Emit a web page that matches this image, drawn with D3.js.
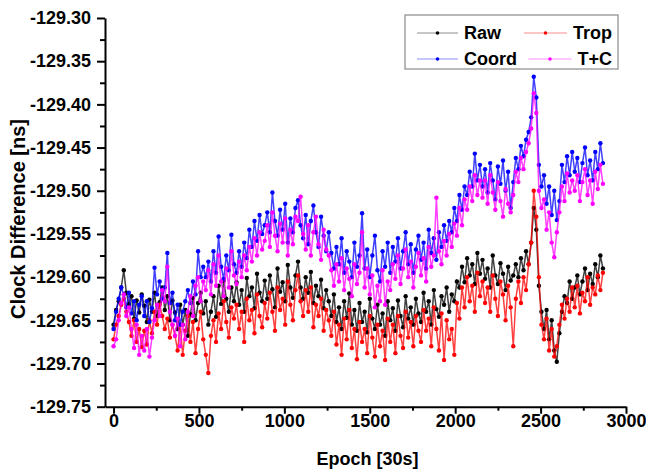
<!DOCTYPE html>
<meta charset="utf-8">
<style>
body { margin: 0; background: #fff; }
svg { font-family: "Liberation Sans", Arial, sans-serif; }
.axis path, .axis line { stroke: #000; stroke-width: 2; }
.axis text { font-size: 18px; font-weight: bold; fill: #000; font-family: "Liberation Sans", Arial, sans-serif; }
.titulo { font-size: 18px; font-weight: bold; fill: #000; }
.legenda text { font-size: 18px; font-weight: bold; fill: #000; }
</style>
<svg width="646" height="475"></svg>
<script src="https://cdn.jsdelivr.net/npm/d3@7"></script>
<script>

// epocas amostradas (a cada 15 epocas de 30s)
var epochs = d3.range(0, 2866, 15);

var raw = [
  -129.655, -129.638, -129.628, -129.612, -129.592, -129.618, -129.631, -129.622, -129.648, -129.627, -129.641, -129.620,
  -129.633, -129.652, -129.626, -129.640, -129.618, -129.645, -129.629, -129.612, -129.638, -129.622, -129.650, -129.627,
  -129.641, -129.660, -129.632, -129.655, -129.638, -129.668, -129.643, -129.624, -129.650, -129.630, -129.618, -129.642,
  -129.628, -129.655, -129.640, -129.622, -129.646, -129.610, -129.631, -129.604, -129.625, -129.640, -129.612, -129.628,
  -129.606, -129.632, -129.615, -129.640, -129.601, -129.622, -129.612, -129.636, -129.596, -129.618, -129.628, -129.604,
  -129.625, -129.598, -129.614, -129.635, -129.590, -129.617, -129.606, -129.628, -129.586, -129.612, -129.624, -129.598,
  -129.582, -129.612, -129.625, -129.600, -129.618, -129.594, -129.630, -129.610, -129.622, -129.603, -129.636, -129.615,
  -129.628, -129.645, -129.620, -129.652, -129.635, -129.660, -129.628, -129.647, -129.619, -129.655, -129.638, -129.662,
  -129.630, -129.652, -129.640, -129.664, -129.625, -129.648, -129.660, -129.632, -129.655, -129.642, -129.668, -129.628,
  -129.650, -129.636, -129.662, -129.627, -129.645, -129.658, -129.622, -129.648, -129.635, -129.655, -129.625, -129.642,
  -129.652, -129.618, -129.640, -129.628, -129.655, -129.615, -129.637, -129.646, -129.622, -129.632, -129.612, -129.640,
  -129.620, -129.628, -129.605, -129.612, -129.588, -129.606, -129.578, -129.598, -129.585, -129.608, -129.572, -129.596,
  -129.580, -129.602, -129.590, -129.612, -129.575, -129.598, -129.608, -129.584, -129.596, -129.615, -129.588, -129.604,
  -129.598, -129.585, -129.600, -129.578, -129.592, -129.570, -129.585, -129.560, -129.520, -129.545, -129.610, -129.640,
  -129.660, -129.638, -129.672, -129.650, -129.685, -129.698, -129.665, -129.640, -129.622, -129.630, -129.605, -129.625,
  -129.612, -129.598, -129.620, -129.605, -129.590, -129.615, -129.596, -129.608, -129.585, -129.600, -129.575, -129.590
];

var trop = [
  -129.672, -129.655, -129.645, -129.632, -129.625, -129.640, -129.652, -129.668, -129.650, -129.675, -129.660, -129.681,
  -129.662, -129.678, -129.650, -129.665, -129.640, -129.655, -129.632, -129.645, -129.660, -129.648, -129.670, -129.655,
  -129.668, -129.685, -129.655, -129.690, -129.662, -129.645, -129.675, -129.652, -129.688, -129.660, -129.640, -129.672,
  -129.690, -129.711, -129.668, -129.650, -129.675, -129.642, -129.660, -129.628, -129.652, -129.670, -129.635, -129.648,
  -129.632, -129.660, -129.640, -129.675, -129.625, -129.650, -129.638, -129.665, -129.620, -129.645, -129.658, -129.630,
  -129.648, -129.618, -129.640, -129.662, -129.612, -129.638, -129.625, -129.655, -129.605, -129.632, -129.650, -129.615,
  -129.598, -129.628, -129.645, -129.615, -129.640, -129.612, -129.658, -129.632, -129.645, -129.625, -129.662, -129.638,
  -129.650, -129.668, -129.640, -129.678, -129.655, -129.690, -129.648, -129.672, -129.638, -129.682, -129.660, -129.695,
  -129.652, -129.675, -129.660, -129.688, -129.645, -129.670, -129.692, -129.655, -129.680, -129.662, -129.696, -129.648,
  -129.675, -129.655, -129.688, -129.645, -129.668, -129.682, -129.640, -129.670, -129.652, -129.680, -129.645, -129.662,
  -129.675, -129.638, -129.662, -129.648, -129.680, -129.635, -129.660, -129.685, -129.642, -129.696, -129.650, -129.672,
  -129.660, -129.690, -129.630, -129.648, -129.612, -129.635, -129.600, -129.628, -129.610, -129.640, -129.595, -129.622,
  -129.605, -129.630, -129.612, -129.640, -129.598, -129.625, -129.645, -129.605, -129.620, -129.650, -129.610, -129.635,
  -129.680, -129.625, -129.605, -129.630, -129.600, -129.615, -129.585, -129.560, -129.500, -129.530, -129.600, -129.655,
  -129.672, -129.648, -129.685, -129.660, -129.692, -129.680, -129.655, -129.632, -129.648, -129.625, -129.640, -129.612,
  -129.635, -129.610, -129.642, -129.618, -129.628, -129.600, -129.632, -129.612, -129.620, -129.598, -129.615, -129.595
];

var coord = [
  -129.660, -129.640, -129.625, -129.612, -129.620, -129.635, -129.618, -129.642, -129.628, -129.650, -129.632, -129.622,
  -129.645, -129.628, -129.652, -129.636, -129.589, -129.620, -129.605, -129.625, -129.612, -129.572, -129.630, -129.618,
  -129.650, -129.632, -129.655, -129.640, -129.628, -129.615, -129.630, -129.605, -129.620, -129.570, -129.600, -129.588,
  -129.600, -129.582, -129.605, -129.570, -129.595, -129.553, -129.588, -129.602, -129.575, -129.592, -129.551, -129.585,
  -129.595, -129.570, -129.588, -129.560, -129.578, -129.545, -129.565, -129.535, -129.558, -129.528, -129.550, -129.540,
  -129.525, -129.548, -129.502, -129.535, -129.552, -129.522, -129.545, -129.515, -129.560, -129.532, -129.548, -129.520,
  -129.511, -129.540, -129.555, -129.528, -129.562, -129.535, -129.517, -129.548, -129.565, -129.530, -129.552, -129.570,
  -129.548, -129.572, -129.590, -129.565, -129.585, -129.555, -129.595, -129.570, -129.582, -129.600, -129.560, -129.588,
  -129.575, -129.526, -129.590, -129.568, -129.600, -129.575, -129.552, -129.592, -129.605, -129.570, -129.588, -129.560,
  -129.595, -129.565, -129.582, -129.555, -129.590, -129.570, -129.548, -129.585, -129.562, -129.595, -129.568, -129.552,
  -129.580, -129.560, -129.590, -129.545, -129.572, -129.555, -129.580, -129.548, -129.565, -129.540, -129.558, -129.535,
  -129.548, -129.520, -129.535, -129.505, -129.522, -129.495, -129.505, -129.478, -129.495, -129.457, -129.488, -129.470,
  -129.495, -129.475, -129.502, -129.468, -129.488, -129.510, -129.472, -129.492, -129.465, -129.500, -129.478, -129.520,
  -129.490, -129.462, -129.475, -129.448, -129.460, -129.441, -129.432, -129.415, -129.368, -129.392, -129.470, -129.495,
  -129.482, -129.515, -129.495, -129.528, -129.500, -129.534, -129.512, -129.470, -129.490, -129.460, -129.482, -129.455,
  -129.478, -129.462, -129.490, -129.468, -129.450, -129.482, -129.465, -129.488, -129.455, -129.475, -129.445, -129.468
];

var tc = [
  -129.680, -129.672, -129.650, -129.630, -129.620, -129.645, -129.635, -129.660, -129.682, -129.655, -129.690, -129.668,
  -129.685, -129.660, -129.692, -129.670, -129.650, -129.632, -129.645, -129.615, -129.628, -129.588, -129.640, -129.655,
  -129.668, -129.648, -129.680, -129.655, -129.672, -129.640, -129.622, -129.645, -129.610, -129.600, -129.628, -129.605,
  -129.615, -129.592, -129.620, -129.585, -129.610, -129.575, -129.605, -129.622, -129.590, -129.612, -129.570, -129.598,
  -129.608, -129.582, -129.600, -129.575, -129.592, -129.565, -129.582, -129.555, -129.575, -129.548, -129.568, -129.558,
  -129.540, -129.565, -129.525, -129.552, -129.570, -129.538, -129.560, -129.532, -129.575, -129.545, -129.562, -129.530,
  -129.535, -129.507, -129.550, -129.568, -129.540, -129.575, -129.548, -129.530, -129.562, -129.580, -129.545, -129.568,
  -129.575, -129.592, -129.610, -129.585, -129.605, -129.578, -129.615, -129.590, -129.602, -129.622, -129.585, -129.608,
  -129.595, -129.548, -129.612, -129.590, -129.620, -129.598, -129.635, -129.610, -129.628, -129.592, -129.632, -129.605,
  -129.615, -129.585, -129.602, -129.575, -129.608, -129.590, -129.568, -129.600, -129.582, -129.612, -129.588, -129.572,
  -129.598, -129.578, -129.605, -129.565, -129.588, -129.575, -129.508, -129.570, -129.585, -129.558, -129.575, -129.550,
  -129.565, -129.538, -129.552, -129.520, -129.540, -129.510, -129.522, -129.495, -129.512, -129.482, -129.505, -129.488,
  -129.508, -129.488, -129.515, -129.482, -129.502, -129.522, -129.490, -129.512, -129.530, -129.498, -129.515, -129.525,
  -129.505, -129.478, -129.490, -129.462, -129.475, -129.455, -129.445, -129.428, -129.387, -129.410, -129.500, -129.520,
  -129.510, -129.545, -129.525, -129.560, -129.577, -129.548, -129.525, -129.495, -129.512, -129.480, -129.502, -129.488,
  -129.500, -129.482, -129.512, -129.490, -129.475, -129.505, -129.488, -129.515, -129.478, -129.498, -129.470, -129.492
];

var seriesNames = ["Raw", "Trop", "Coord", "T+C"];
var seriesColors = ["#000000", "#ff0000", "#0000ff", "#ff00ff"];
var seriesData = [raw, trop, coord, tc];

var xTicks = [0, 500, 1000, 1500, 2000, 2500, 3000];
var yTicks = [-129.75, -129.70, -129.65, -129.60, -129.55, -129.50, -129.45, -129.40, -129.35, -129.30];

var svg = d3.select("svg");

var x = d3.scaleLinear().domain([-50, 3000]).range([105, 626]);
var y = d3.scaleLinear().domain([-129.75, -129.30]).range([406.7, 18]);

// ticks menores no meio dos maiores
var xMinor = d3.pairs(xTicks).map(p => (p[0] + p[1]) / 2);
var yMinor = d3.pairs(yTicks).map(p => (p[0] + p[1]) / 2);

// SERIES
var linha = d3.line()
    .x((d, i) => x(epochs[i]))
    .y(d => y(d));

seriesData.forEach(function(vals, k) {
  var g = svg.append("g").attr("class", "serie");
  g.append("path")
      .datum(vals)
      .attr("fill", "none")
      .attr("stroke", seriesColors[k])
      .attr("stroke-opacity", 0.75)
      .attr("stroke-width", 1.5)
      .attr("d", linha);
  g.selectAll("circle")
    .data(vals)
    .enter()
    .append("circle")
      .attr("cx", (d, i) => x(epochs[i]))
      .attr("cy", d => y(d))
      .attr("r", 2.2)
      .attr("fill", seriesColors[k]);
});

// EIXOS
svg.append("g")
    .attr("class", "axis")
    .attr("transform", "translate(0," + y.range()[0] + ")")
    .call(d3.axisBottom(x).tickValues(xMinor).tickSize(4).tickSizeOuter(0).tickFormat(""))
  .select(".domain").remove();

svg.append("g")
    .attr("class", "axis")
    .attr("transform", "translate(0," + y.range()[0] + ")")
    .call(d3.axisBottom(x).tickValues(xTicks).tickSize(7).tickSizeOuter(0).tickPadding(1)
      .tickFormat(d => String(d)));

svg.append("g")
    .attr("class", "axis")
    .attr("transform", "translate(" + x.range()[0] + ",0)")
    .call(d3.axisLeft(y).tickValues(yMinor).tickSize(5).tickSizeOuter(0).tickFormat(""))
  .select(".domain").remove();

svg.append("g")
    .attr("class", "axis")
    .attr("transform", "translate(" + x.range()[0] + ",0)")
    .call(d3.axisLeft(y).tickValues(yTicks).tickSize(8).tickSizeOuter(0).tickPadding(6)
      .tickFormat(d => d.toFixed(2)));

// titulos
svg.append("text")
    .attr("class", "titulo")
    .attr("x", (x.range()[0] + x.range()[1]) / 2 + 2)
    .attr("y", 465)
    .attr("text-anchor", "middle")
    .text("Epoch [30s]");

svg.append("text")
    .attr("class", "titulo")
    .attr("transform", "translate(25,219) rotate(-90)")
    .attr("text-anchor", "middle")
    .style("font-size", "20px")
    .text("Clock Difference [ns]");

// LEGENDA
var leg = svg.append("g").attr("class", "legenda");
leg.append("rect")
    .attr("x", 405).attr("y", 15)
    .attr("width", 213).attr("height", 54)
    .attr("fill", "#fff")
    .attr("stroke", "#8a8a8a")
    .attr("stroke-width", 1.2);

seriesNames.forEach(function(nome, k) {
  var col = k % 2, row = Math.floor(k / 2);
  var cy = 33 + row * 26;
  var t = leg.append("text")
      .attr("y", cy)
      .attr("dy", "0.36em")
      .text(nome);
  var x0, x1;
  if (col === 0) {
    t.attr("x", 464);
    x0 = 417; x1 = 458;
  } else {
    t.attr("x", 612).attr("text-anchor", "end");
    var w = t.node().getComputedTextLength();
    x1 = 612 - w - 6; x0 = x1 - 43;
  }
  leg.append("line")
      .attr("x1", x0).attr("x2", x1)
      .attr("y1", cy).attr("y2", cy)
      .attr("stroke", seriesColors[k])
      .attr("stroke-opacity", 0.45)
      .attr("stroke-width", 1.2);
  leg.append("circle")
      .attr("cx", (x0 + x1) / 2).attr("cy", cy)
      .attr("r", 1.8)
      .attr("fill", seriesColors[k]);
});

</script>
